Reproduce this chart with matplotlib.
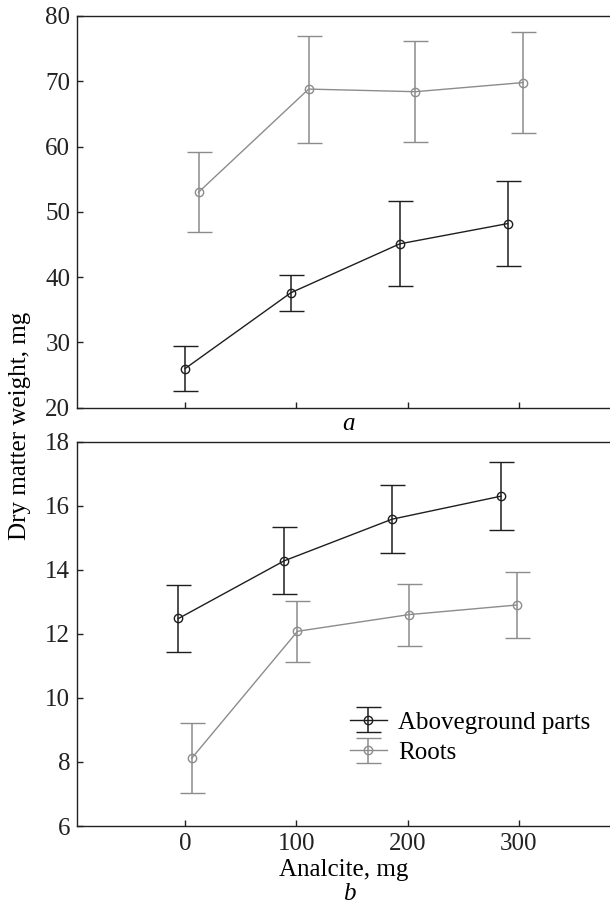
import matplotlib
matplotlib.use("Agg")
import matplotlib.pyplot as plt

plt.rcParams['font.family'] = ['Liberation Serif', 'DejaVu Serif']
FS = 18

a_shoot_x = [0, 95, 193, 290]
a_shoot_y = [26.0, 37.6, 45.1, 48.2]
a_shoot_err = [3.4, 2.8, 6.5, 6.5]
a_root_x = [12, 111, 207, 304]
a_root_y = [53.0, 68.8, 68.4, 69.8]
a_root_err = [6.1, 8.2, 7.7, 7.8]

# panel b
b_shoot_x = [-6, 89, 186, 284]
b_shoot_y = [12.48, 14.28, 15.58, 16.3]
b_shoot_err = [1.06, 1.05, 1.06, 1.06]
b_root_x = [6, 101, 201, 298]
b_root_y = [8.12, 12.08, 12.6, 12.9]
b_root_err = [1.1, 0.95, 0.97, 1.03]

xticks = [0, 100, 200, 300]
labels = ["Aboveground parts", "Roots"]

BLACK = "#1e1e1e"
GRAY = "#8c8c8c"

fig = plt.figure(figsize=(6.10, 9.07), dpi=100)
ax1 = fig.add_axes([0.1267, 0.5505, 0.8733, 0.4319])
ax2 = fig.add_axes([0.1267, 0.0893, 0.8733, 0.4237])


def draw(ax, x, y, err, color):
    return ax.errorbar(x, y, yerr=err, color=color, lw=1.0, elinewidth=1.1,
                       capsize=9, capthick=1.1, marker='o', ms=6,
                       mfc='none', mec=color, mew=1.0)


def style(ax):
    ax.set_xlim(-97, 382)
    ax.set_xticks(xticks)
    ax.spines['right'].set_visible(False)
    for s in ['left', 'top', 'bottom']:
        ax.spines[s].set_linewidth(1.0)
        ax.spines[s].set_color('#222222')
    ax.tick_params(direction='in', length=4.5, width=1.0, pad=5,
                   colors='#222222', labelsize=FS)


draw(ax1, a_shoot_x, a_shoot_y, a_shoot_err, BLACK)
draw(ax1, a_root_x, a_root_y, a_root_err, GRAY)
style(ax1)
ax1.set_ylim(20, 80)
ax1.set_yticks([20, 30, 40, 50, 60, 70, 80])
ax1.set_xticklabels([])

h1 = draw(ax2, b_shoot_x, b_shoot_y, b_shoot_err, BLACK)
h2 = draw(ax2, b_root_x, b_root_y, b_root_err, GRAY)
style(ax2)
ax2.set_ylim(6, 18)
ax2.set_yticks([6, 8, 10, 12, 14, 16, 18])
ax2.set_xlabel("Analcite, mg", fontsize=FS, labelpad=3)

ax2.legend([h1, h2], labels, loc='center left', bbox_to_anchor=(0.5117, 0.230),
           frameon=False, fontsize=FS, handlelength=1.47, handletextpad=0.45,
           labelspacing=0.32, borderaxespad=0, borderpad=0)

fig.text(0.033, 0.531, "Dry matter weight, mg", rotation=90, ha='center',
         va='center', fontsize=FS)
fig.text(0.572, 1 - 424 / 907, "a", style='italic', ha='center', va='center',
         fontsize=FS)
fig.text(0.572, 1 - 894 / 907, "b", style='italic', ha='center', va='center',
         fontsize=FS)

fig.savefig("out.png", dpi=100)
